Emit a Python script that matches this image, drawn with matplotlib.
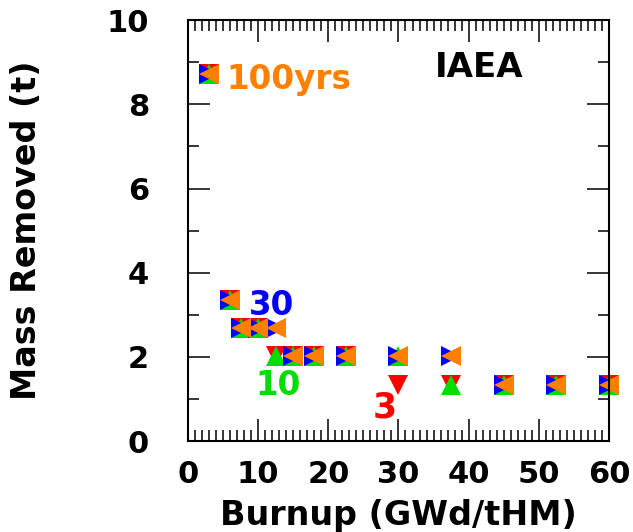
import matplotlib
matplotlib.use("Agg")
import matplotlib.pyplot as plt
from matplotlib.ticker import MultipleLocator

# Burnup grid (GWd/tHM)
burnup = [3, 6, 7.5, 10, 12.5, 15, 18, 22.5, 30, 37.5, 45, 52.5, 60]

# Mass removed (t) for each cooling time
mass_3yrs = [8.72, 3.36, 2.68, 2.68, 2.02, 2.02, 2.02, 2.02, 1.34, 1.34, 1.34, 1.34, 1.34]
mass_10yrs = [8.72, 3.36, 2.68, 2.68, 2.02, 2.02, 2.02, 2.02, 2.02, 1.34, 1.34, 1.34, 1.34]
mass_30yrs = [8.72, 3.36, 2.68, 2.68, 2.68, 2.02, 2.02, 2.02, 2.02, 2.02, 1.34, 1.34, 1.34]
mass_100yrs = [8.72, 3.36, 2.68, 2.68, 2.68, 2.02, 2.02, 2.02, 2.02, 2.02, 1.34, 1.34, 1.34]

RED = "#ff0000"
GREEN = "#00dd00"
BLUE = "#0000ff"
ORANGE = "#ff7f00"

plt.rcParams["font.family"] = "DejaVu Sans"
plt.rcParams["font.weight"] = "bold"

fig = plt.figure(figsize=(6.33, 5.32), dpi=100)
ax = fig.add_axes([0.297, 0.171, 0.665, 0.791])

ms = 14.6
ax.plot(burnup, mass_3yrs, linestyle="none", marker="v", ms=ms, mew=0, color=RED, clip_on=False)
ax.plot(burnup, mass_10yrs, linestyle="none", marker="^", ms=ms, mew=0, color=GREEN, clip_on=False)
ax.plot(burnup, mass_30yrs, linestyle="none", marker=">", ms=ms, mew=0, color=BLUE, clip_on=False)
ax.plot(burnup, mass_100yrs, linestyle="none", marker="<", ms=ms, mew=0, color=ORANGE, clip_on=False)

ax.set_xlim(0, 60)
ax.set_ylim(0, 10)
ax.xaxis.set_major_locator(MultipleLocator(10))
ax.xaxis.set_minor_locator(MultipleLocator(1))
ax.yaxis.set_major_locator(MultipleLocator(2))
ax.yaxis.set_minor_locator(MultipleLocator(1))

ax.tick_params(which="both", direction="in", top=True, right=True, width=1.1)
ax.tick_params(which="major", length=15.8)
ax.tick_params(which="minor", length=7.9)
ax.tick_params(axis="x", which="major", pad=14, labelsize=22)
ax.tick_params(axis="y", which="major", pad=28, labelsize=22)
for lbl in ax.get_xticklabels() + ax.get_yticklabels():
    lbl.set_fontweight("bold")
for sp in ax.spines.values():
    sp.set_linewidth(1.5)

ax.set_xlabel("Burnup (GWd/tHM)", fontsize=24, fontweight="bold", labelpad=7)
ax.set_ylabel("Mass Removed (t)", fontsize=24, fontweight="bold")
ax.yaxis.set_label_coords(-0.345, 0.5)

ax.text(5.5, 8.36, "100yrs", color=ORANGE, fontsize=23.5, fontweight="bold", ha="left", va="baseline")
ax.text(8.69, 2.99, "30", color=BLUE, fontsize=23.5, fontweight="bold", ha="left", va="baseline")
ax.text(9.55, 1.09, "10", color=GREEN, fontsize=23.5, fontweight="bold", ha="left", va="baseline")
ax.text(26.36, 0.57, "3", color=RED, fontsize=25, fontweight="bold", ha="left", va="baseline")
ax.text(35.2, 8.65, "IAEA", color="black", fontsize=24.5, fontweight="bold", ha="left", va="baseline")

fig.savefig("out.png", dpi=100)
